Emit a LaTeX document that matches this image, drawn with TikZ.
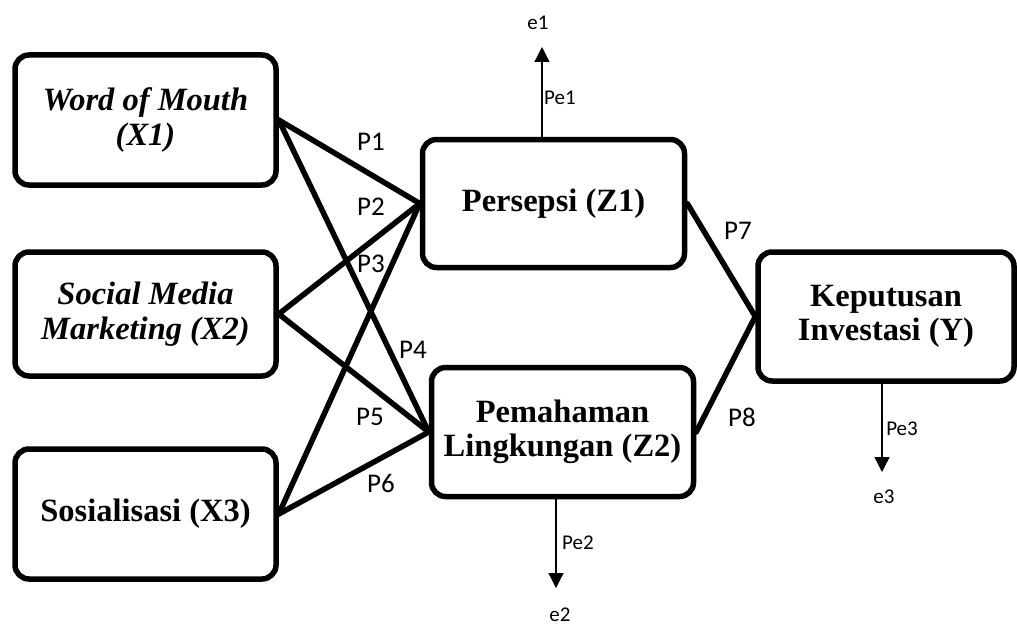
\documentclass[tikz,border=0pt]{standalone}
\usepackage{fontspec}
\setmainfont{Liberation Serif}
\newfontfamily\calib{Carlito}
\usetikzlibrary{arrows.meta}
\begin{document}
\begin{tikzpicture}[x=1pt,y=-1pt,
  var/.style={draw, line width=5.5pt, rounded corners=14pt, align=center,
    inner sep=0pt, font=\fontsize{32.5}{34.5}\selectfont\bfseries},
  link/.style={line width=5.5pt, line cap=round},
  plab/.style={font=\fontsize{27}{30}\selectfont\calib, inner sep=0pt},
  elab/.style={font=\fontsize{21}{24}\selectfont\calib, inner sep=0pt},
  err/.style={line width=1.3pt, -{Triangle[length=15pt,width=15pt]}}]
\useasboundingbox (0,0) rectangle (1017,626);

% exogenous variables
\node[var, minimum width=261pt, minimum height=130pt] (x1) at (145.5,120)
  {\itshape Word of Mouth\\\itshape (X1)};
\node[var, minimum width=261pt, minimum height=124pt] (x2) at (145.5,314)
  {\itshape Social Media\\\itshape Marketing (X2)};
\node[var, minimum width=261pt, minimum height=130pt] (x3) at (145.5,514)
  {Sosialisasi (X3)};

% mediators
\node[var, minimum width=262pt, minimum height=128pt] (z1) at (553.5,203.5)
  {Persepsi (Z1)};
\node[var, minimum width=262pt, minimum height=129pt] (z2) at (562.5,432)
  {Pemahaman\\Lingkungan (Z2)};

% outcome
\node[var, minimum width=256pt, minimum height=129pt] (y) at (886,316.5)
  {Keputusan\\Investasi (Y)};

% paths
\draw[link] (x1.east) -- (z1.west);
\draw[link] (x1.east) -- (z2.west);
\draw[link] (x2.east) -- (z1.west);
\draw[link] (x2.east) -- (z2.west);
\draw[link] (x3.east) -- (z1.west);
\draw[link] (x3.east) -- (z2.west);
\draw[link] (z1.east) -- (y.west);
\draw[link] (z2.east) -- (y.west);

% path labels
\node[plab] (p1) at (371,142) {P1};
\node[plab] (p2) at (371,207) {P2};
\node[plab] (p3) at (371,264) {P3};
\node[plab] (p4) at (413,350) {P4};
\node[plab] (p5) at (370,417) {P5};
\node[plab] (p6) at (381,483) {P6};
\node[plab] (p7) at (738,231) {P7};
\node[plab] (p8) at (742,417) {P8};

% error terms
\coordinate (t1) at (542,47);
\coordinate (t2) at (556,588);
\coordinate (t3) at (882,472);
\draw[err] (t1 |- z1.north) -- (t1);
\draw[err] (t2 |- z2.south) -- (t2);
\draw[err] (t3 |- y.south) -- (t3);

\node[elab] (e1) at (538,23) {e1};
\node[elab] (pe1) at (560,98) {Pe1};
\node[elab] (e2) at (560,615) {e2};
\node[elab] (pe2) at (578,543) {Pe2};
\node[elab] (e3) at (884,497) {e3};
\node[elab] (pe3) at (902,429) {Pe3};
\end{tikzpicture}
\end{document}
